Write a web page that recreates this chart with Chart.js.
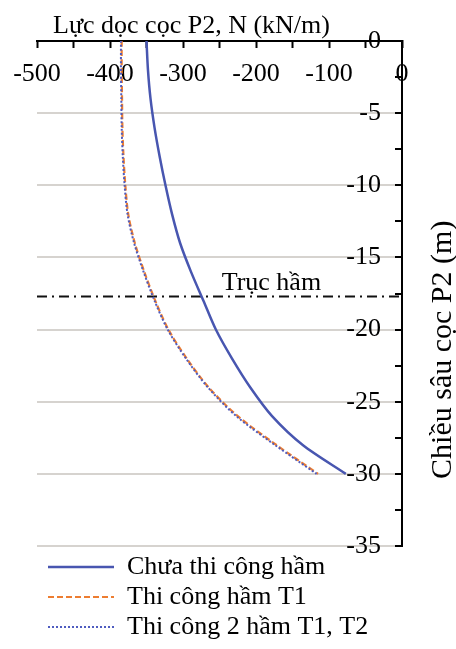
<!DOCTYPE html>
<html>
<head>
<meta charset="utf-8">
<script src="https://cdn.jsdelivr.net/npm/chart.js@4.4.1/dist/chart.umd.min.js"></script>
<style>
  html, body { margin: 0; padding: 0; background: #fff; }
  #wrap { width: 456px; height: 649px; }
</style>
</head>
<body>
<div id="wrap"><canvas id="chart" width="456" height="649"></canvas></div>
<script>
// depth along pile P2 (m)
const depths = [0, -2, -4, -6, -8, -10, -12, -14, -16, -18, -20, -22, -24, -26, -28, -30];
// axial force N (kN/m)
const forceNoTunnel = [-350, -348, -344.5, -339, -332, -324, -315, -304, -289, -272, -255, -233, -208, -178, -136, -77];
const forceTunnelT1 = [-384, -384, -383.5, -383, -381.5, -379, -375, -366, -353, -338, -320, -295, -265, -225, -172, -115];
const forceTunnelT1T2 = [-385, -385, -384.5, -384, -382.5, -380, -376, -367, -354, -339, -321, -296, -266, -227, -174, -117];
const seriesLabels = ['Chưa thi công hầm', 'Thi công hầm T1', 'Thi công 2 hầm T1, T2'];

const tunnelAxisDepth = -17.7;
const tunnelAxisLabel = 'Trục hầm';
const xTitle = 'Lực dọc cọc P2, N (kN/m)';
const yTitle = 'Chiều sâu cọc P2 (m)';
const xRange = [-500, 0];
const yRange = [-35, 0];

const FONT = "'Liberation Serif', 'Times New Roman', serif";

const toPoints = vals => vals.map((v, i) => ({ x: v, y: depths[i] }));

// titles + tunnel axis label, and nudge the legend a little
const extraText = {
    id: 'extraText',
    afterLayout(chart) {
        chart.legend.left += 7;
        chart.legend.top += 4;
    },
    afterDraw(chart) {
        const { ctx, chartArea, scales: { x, y } } = chart;
        ctx.save();
        ctx.fillStyle = '#000';
        ctx.font = '26px ' + FONT;
        ctx.textBaseline = 'alphabetic';
        ctx.textAlign = 'left';
        ctx.fillText(xTitle, x.getPixelForValue(-478), chartArea.top - 8);
        ctx.fillText(tunnelAxisLabel, x.getPixelForValue(-247), y.getPixelForValue(tunnelAxisDepth) - 6);

        ctx.font = '30px ' + FONT;
        ctx.translate(chartArea.right + 49, y.getPixelForValue(-21.4));
        ctx.rotate(-Math.PI / 2);
        ctx.textAlign = 'center';
        ctx.fillText(yTitle, 0, 0);
        ctx.restore();
    }
};

const chart = new Chart(document.getElementById('chart'), {
    type: 'scatter',
    data: {
        datasets: [
            {
                label: seriesLabels[0],
                data: toPoints(forceNoTunnel),
                borderColor: '#4856b0',
                borderWidth: 2.5,
                showLine: true,
                tension: 0.3,
                pointRadius: 0,
                order: 0
            },
            {
                label: seriesLabels[1],
                data: toPoints(forceTunnelT1),
                borderColor: '#ed7d31',
                borderWidth: 2.2,
                borderDash: [6, 3],
                showLine: true,
                tension: 0.3,
                pointRadius: 0,
                order: 2
            },
            {
                label: seriesLabels[2],
                data: toPoints(forceTunnelT1T2),
                borderColor: '#4f5cc0',
                borderWidth: 2,
                borderDash: [2, 2],
                showLine: true,
                tension: 0.3,
                pointRadius: 0,
                order: 1
            },
            {
                label: tunnelAxisLabel,
                data: [{ x: xRange[0], y: tunnelAxisDepth }, { x: xRange[1], y: tunnelAxisDepth }],
                borderColor: '#111',
                borderWidth: 2,
                borderDash: [10, 5, 2, 5],
                showLine: true,
                pointRadius: 0,
                order: 3
            }
        ]
    },
    options: {
        responsive: false,
        animation: false,
        layout: { padding: { left: 37, right: 0, top: 0, bottom: 3 } },
        plugins: {
            tooltip: { enabled: false },
            legend: {
                position: 'bottom',
                align: 'start',
                labels: {
                    usePointStyle: true,
                    pointStyle: 'line',
                    pointStyleWidth: 66,
                    color: '#000',
                    padding: 4,
                    font: { family: FONT, size: 26 },
                    filter: item => item.datasetIndex < 3,
                    sort: (a, b) => a.datasetIndex - b.datasetIndex,
                    // point style legend picks point styles, so copy the line look back
                    generateLabels: chart =>
                        Chart.defaults.plugins.legend.labels.generateLabels(chart).map(item => {
                            const ds = chart.data.datasets[item.datasetIndex];
                            item.lineDash = ds.borderDash || [];
                            item.lineWidth = ds.borderWidth;
                            item.strokeStyle = ds.borderColor;
                            return item;
                        })
                }
            }
        },
        scales: {
            x: {
                type: 'linear',
                position: 'top',
                min: xRange[0],
                max: xRange[1],
                border: { color: '#000', width: 2 },
                grid: {
                    drawOnChartArea: false,
                    tickLength: -7,
                    tickColor: '#000',
                    tickWidth: 2
                },
                ticks: {
                    stepSize: 50,
                    autoSkip: false,
                    maxRotation: 0,
                    minRotation: 0,
                    mirror: true,
                    padding: 18,
                    color: '#000',
                    font: { family: FONT, size: 26 },
                    callback: v => (v % 100 === 0 ? String(v) : '')
                },
                afterFit: s => {
                    s.height = 41;
                    s.paddingLeft = 0;
                    s.paddingRight = 0;
                }
            },
            y: {
                type: 'linear',
                position: 'right',
                min: yRange[0],
                max: yRange[1],
                border: { color: '#000', width: 2 },
                grid: {
                    color: c => (c.tick && c.tick.value % 5 === 0 ? '#d6d3cf' : 'rgba(0,0,0,0)'),
                    lineWidth: 2,
                    tickLength: -7,
                    tickColor: '#000',
                    tickWidth: 2
                },
                ticks: {
                    stepSize: 2.5,
                    autoSkip: false,
                    mirror: true,
                    padding: -21,
                    color: '#000',
                    font: { family: FONT, size: 26 },
                    callback: v => (v % 5 === 0 ? String(v) : '')
                },
                afterFit: s => {
                    s.width = 54;
                }
            }
        }
    },
    plugins: [extraText]
});
</script>
</body>
</html>
